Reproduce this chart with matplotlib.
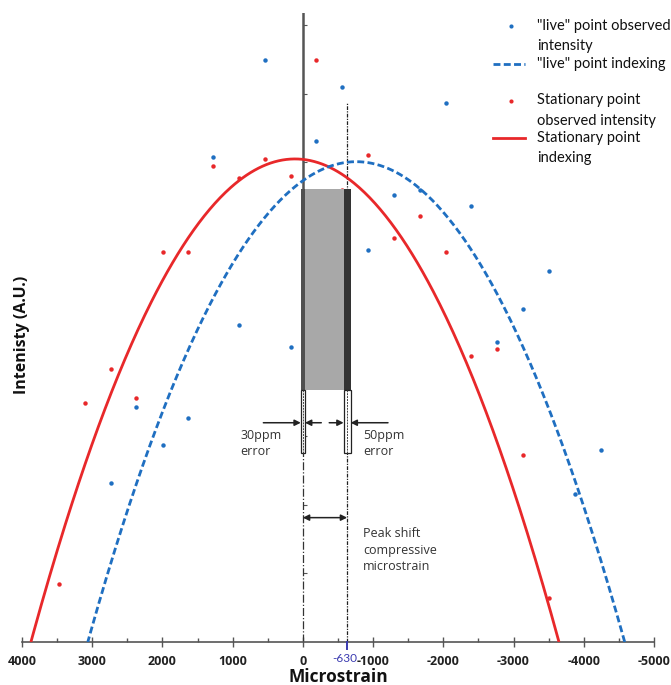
import matplotlib
matplotlib.use("Agg")
import matplotlib.pyplot as plt
import numpy as np
from matplotlib.patches import Rectangle
from matplotlib.lines import Line2D

plt.rcParams['font.family'] = ['Open Sans', 'DejaVu Sans']

# ---------------- data ----------------
red_x = [3476, 3106, 2737, 2382, 1998, 1643, 1273, 904, 535, 165,
         -190, -560, -929, -1299, -1668, -2038, -2393, -2763, -3132, -3502]
red_y = [0.85, 3.49, 3.99, 3.56, 5.69, 5.69, 6.95, 6.77, 7.05, 6.80,
         8.50, 6.59, 7.11, 5.90, 6.22, 5.69, 4.18, 4.28, 2.73, 0.64]

blue_x = [2737, 2382, 1998, 1643, 1273, 904, 535, 165, -190, -560,
          -929, -1299, -1668, -2038, -2393, -2763, -3132, -3502, -3871, -4241]
blue_y = [2.32, 3.43, 2.88, 3.27, 7.08, 4.63, 8.50, 4.31, 7.31, 8.10,
          5.72, 6.53, 6.60, 7.87, 6.37, 4.38, 4.86, 5.42, 2.16, 2.80]

# fitted (indexing) parabolas: centre, peak height, half width at zero
red_fit_center, red_fit_peak, red_fit_halfwidth = 113, 7.05, 3760
blue_fit_center, blue_fit_peak, blue_fit_halfwidth = -760, 7.01, 3823

peak_shift = -630
error_left = 30
error_right = 50

xticks = [4000, 3000, 2000, 1000, 0, -1000, -2000, -3000, -4000, -5000]
xticklabels = ['4000', '3000', '2000', '1000', '0', '-1000', '-2000', '-3000', '-4000', '-5000']

legend_labels = [['"live" point observed', 'intensity'],
                 ['"live" point indexing'],
                 ['Stationary point', 'observed intensity'],
                 ['Stationary point', 'indexing']]

RED = '#e8282a'
BLUE = '#1f6fc1'

W, H = 671, 685
fig = plt.figure(figsize=(W / 100, H / 100), dpi=100)

def fx(px):
    return px / W

def fy(py):
    return 1 - py / H

ymax = 9.18
ax = fig.add_axes([fx(22), 43 / H, 632 / W, (642 - 13) / H])
ax.set_xlim(4000, -5000)
ax.set_ylim(0, ymax)

# curves
def parabola(c, h, w):
    xs = np.linspace(c - w, c + w, 400)
    return xs, h * (1 - ((xs - c) / w) ** 2)

xs, ys = parabola(red_fit_center, red_fit_peak, red_fit_halfwidth)
ax.plot(xs, ys, color=RED, lw=2.0, zorder=3, solid_capstyle='butt')
xs, ys = parabola(blue_fit_center, blue_fit_peak, blue_fit_halfwidth)
ax.plot(xs, ys, color=BLUE, lw=2.0, ls=(0, (2.5, 1.2)), zorder=3)

ax.plot(blue_x, blue_y, 'o', color=BLUE, ms=3.2, mec='none', zorder=4)
ax.plot(red_x, red_y, 'o', color=RED, ms=3.2, mec='none', zorder=4)

# vertical reference lines
bar_top, bar_bot, box_bot = 6.61, 3.68, 2.76
ax.plot([0, 0], [bar_top, ymax], color='#555555', lw=1.8, zorder=2)
ax.plot([0, 0], [0, box_bot], color='#333333', lw=0.9, ls='-.', zorder=2)
ax.plot([peak_shift, peak_shift], [0, 7.87], color='#222222', lw=0.9,
        ls=(0, (3, 1, 1, 1)), zorder=2)

# grey bar with dark error bands
ax.add_patch(Rectangle((0, bar_bot), peak_shift, bar_top - bar_bot,
                       facecolor='#a8a8a8', edgecolor='none', zorder=5))
ax.add_patch(Rectangle((-error_left, bar_bot), 2 * error_left, bar_top - bar_bot,
                       facecolor='#505050', edgecolor='none', zorder=6))
ax.add_patch(Rectangle((peak_shift - error_right, bar_bot), 2 * error_right,
                       bar_top - bar_bot, facecolor='#333333', edgecolor='none', zorder=6))

# error boxes below bar
for c, e in [(0, error_left), (peak_shift, error_right)]:
    ax.add_patch(Rectangle((c - e, box_bot), 2 * e, bar_bot - box_bot,
                           facecolor='white', edgecolor='#222222', lw=0.9, zorder=6))
    ax.plot([c, c], [box_bot, bar_bot], color='#444444', lw=0.7, ls=(0, (2, 1)), zorder=7)

arrow_y = 3.20
ap = dict(arrowstyle='-|>', color='#222222', lw=1.1, mutation_scale=9, shrinkA=0, shrinkB=0)
ax.annotate('', xy=(error_left, arrow_y), xytext=(563, arrow_y), arrowprops=ap)
ax.annotate('', xy=(-error_left, arrow_y), xytext=(-262, arrow_y), arrowprops=ap)
ax.annotate('', xy=(peak_shift + error_right, arrow_y), xytext=(-375, arrow_y), arrowprops=ap)
ax.annotate('', xy=(peak_shift - error_right, arrow_y), xytext=(-1212, arrow_y), arrowprops=ap)

ap2 = dict(arrowstyle='<|-|>', color='#222222', lw=1.1, mutation_scale=9, shrinkA=0, shrinkB=0)
ax.annotate('', xy=(peak_shift, 1.815), xytext=(0, 1.815), arrowprops=ap2)

tfs = 9
ax.text(887, 2.90, '30ppm\nerror', fontsize=tfs, color='#333333', va='center',
        ha='left', linespacing=1.35)
ax.text(-855, 2.90, '50ppm\nerror', fontsize=tfs, color='#333333', va='center',
        ha='left', linespacing=1.35)
ax.text(-855, 1.34, 'Peak shift\ncompressive\nmicrostrain', fontsize=tfs,
        color='#333333', va='center', ha='left', linespacing=1.35)

# axes styling
for s in ['top', 'right']:
    ax.spines[s].set_visible(False)
ax.spines['left'].set_position(('data', 0))
ax.spines['left'].set_visible(False)
ax.spines['bottom'].set_color('#555555')
ax.spines['bottom'].set_linewidth(1.2)
ax.set_yticks(range(1, 10))
ax.set_yticklabels([])
ax.tick_params(axis='y', direction='in', length=3, width=0.8, color='#555555')
ax.set_xticks(xticks)
ax.set_xticklabels(xticklabels)
ax.set_xticks(np.arange(3500, -5000, -1000), minor=True)
ax.tick_params(axis='x', which='major', direction='inout', length=7, width=1,
               color='#555555', labelsize=9, pad=6)
ax.tick_params(axis='x', which='minor', direction='in', length=3, width=1, color='#555555')
for lab in ax.get_xticklabels():
    lab.set_fontweight('bold')
    lab.set_color('#222222')

# -630 marker
ax.plot([peak_shift, peak_shift], [0, -0.1], color='#3a3ab0', lw=1.4, clip_on=False, zorder=8)
ax.annotate('-630', xy=(peak_shift, 0), xytext=(7, -8), textcoords='offset points',
            color='#3a3ab0', fontsize=8.5, ha='right', va='top',
            family=['Lato', 'DejaVu Sans'])

fig.text(fx(338), fy(677), 'Microstrain', fontsize=12.5, fontweight='bold',
         ha='center', va='center', color='#111111')
fig.text(fx(22), fy(335), 'Intenisty (A.U.)', fontsize=11.5, fontweight='bold',
         ha='center', va='center', rotation=90, color='#111111')

# legend (manual)
lfs = 10.5
fig.add_artist(Line2D([fx(511)], [fy(26)], marker='o', ms=3, color=BLUE, mec='none', ls='none'))
fig.add_artist(Line2D([fx(493), fx(525)], [fy(64), fy(64)], color=BLUE, lw=2, ls=(0, (2.5, 1.2))))
fig.add_artist(Line2D([fx(511)], [fy(101)], marker='o', ms=3, color=RED, mec='none', ls='none'))
fig.add_artist(Line2D([fx(493), fx(525)], [fy(138), fy(138)], color=RED, lw=2))
line_rows = [[26, 46], [64], [100, 121], [138, 158]]
for labs, rows in zip(legend_labels, line_rows):
    for t, r in zip(labs, rows):
        fig.text(fx(537), fy(r), t, fontsize=lfs, ha='left', va='center', color='#111111',
                 family=['Lato', 'DejaVu Sans'])

fig.savefig('out.png', dpi=100)
